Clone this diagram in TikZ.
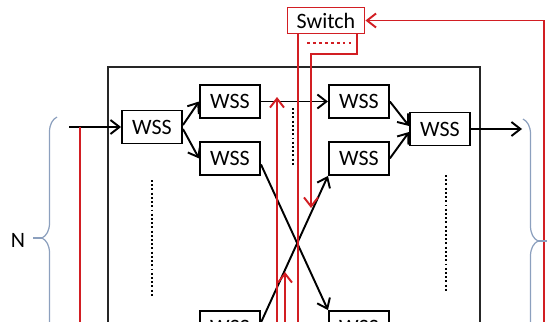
\documentclass[tikz,border=0pt]{standalone}
\usepackage{fontspec}
\setmainfont{Carlito}
\usetikzlibrary{arrows.meta,positioning,decorations.pathreplacing}
\definecolor{sigred}{RGB}{210,30,35}
\definecolor{bracegray}{RGB}{140,160,190}

\begin{document}
\begin{tikzpicture}[x=0.02cm,y=-0.02cm,auto,>={Straight Barb[length=1.8mm,width=2.8mm]},line width=1.1pt]
	\tikzstyle{block} = [draw, rectangle, minimum height=0.66cm, minimum width=1.2cm, inner sep=0pt, font=\fontsize{12.5}{14}\selectfont]
	\tikzstyle{dots} = [dash pattern=on 1.1pt off 1.3pt, line width=1.1pt]
	\tikzstyle{reddots} = [dash pattern=on 1.5pt off 1.9pt, line width=1.3pt]
	\tikzstyle{bracket} = [draw=bracegray, line width=0.7pt]

	\useasboundingbox (0,0) rectangle (557,321);
	\clip (0,0) rectangle (557,321);

	\draw [black!85] (108,67) rectangle (480,400);

	\node [block] (wss1) at (152,127) {WSS};
	\node [block] (wss2) at (230,101.5) {WSS};
	\node [block, below = 0.44cm of wss2] (wss3) {WSS};
	\node [block, right = 1.34cm of wss2] (wss4) {WSS};
	\node [block, right = 1.34cm of wss3] (wss5) {WSS};
	\node [block] (wssout) at (440,129) {WSS};
	\node [block] (wss6) at (230,327.5) {WSS};
	\node [block, right = 1.34cm of wss6] (wss7) {WSS};
	\node [block, draw=sigred, minimum height=0.52cm, minimum width=1.54cm] (switch) at (326,20.5) {Switch};
	\node [font=\fontsize{12.5}{14}\selectfont] (nlabel) at (18,240) {N};

	\node [coordinate] (in) at (69,127) {};
	\node [coordinate] (out) at (522,129) {};
	\node [coordinate] (c0) at (80,127) {};
	\node [coordinate] (c1) at (544,400) {};
	\node [coordinate] (c2) at (311,208) {};
	\node [coordinate] (c3) at (277,400) {};
	\node [coordinate] (c4) at (277,97) {};
	\node [coordinate] (c5) at (285,400) {};
	\node [coordinate] (c6) at (285,272) {};

	% black paths
	\draw [->] (in) -- (wss1);
	\draw [->] ([yshift=0.04cm]wss1.east) -- (wss2.west);
	\draw [->] ([yshift=-0.04cm]wss1.east) -- (wss3.west);
	\draw [->] (wss2) -- (wss4);
	\draw [->] ([yshift=-0.12cm]wss3.east) -- (wss7.north west);
	\draw [->] ([yshift=0.1cm]wss6.east) -- (wss5.south west);
	\draw [->] (wss4.east) -- ([yshift=0.06cm]wssout.west);
	\draw [->] (wss5.east) -- ([yshift=-0.06cm]wssout.west);
	\draw [->] (wssout) -- (out);

	% red paths
	\draw [sigred] (c0) -- ++(0,300);
	\draw [->, sigred] (c1) |- (switch.east);
	\draw [sigred] ([xshift=-0.56cm]switch.south) -- ++(0,380);
	\draw [->, sigred] ([xshift=0.62cm]switch.south) -- ++(0,19.5) -| (c2);
	\draw [->, sigred] (c3) -- (c4);
	\draw [->, sigred] (c5) -- (c6);
	\draw [sigred, reddots] (307,43) -- (352,43);

	% dots
	\draw [dots] (152,180) -- (152,297);
	\draw [dots] (293,108) -- (293,167);
	\draw [dots] (446,175) -- (446,293);

	% braces
	\draw [bracket, decorate, decoration={brace, amplitude=0.3cm}] (57,359) -- (57,117);
	\draw [bracket] (42,238) -- (33,238);
	\draw [bracket, decorate, decoration={brace, amplitude=0.3cm}] (523,119) -- (523,363);
	\draw [bracket] (538,241) -- (547,241);
\end{tikzpicture}
\end{document}
